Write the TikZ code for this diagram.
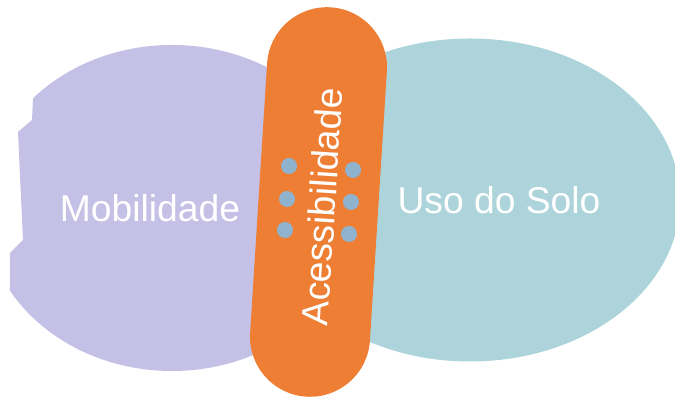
\documentclass[tikz,border=0pt]{standalone}
\usepackage{fontspec}
\setmainfont{Liberation Sans}

\definecolor{lilac}{RGB}{197,193,230}
\definecolor{seablue}{RGB}{172,212,218}
\definecolor{bandorange}{RGB}{237,126,51}
\definecolor{dotblue}{RGB}{143,179,206}

\begin{document}
\begin{tikzpicture}[x=0.025cm, y=0.025cm,
    label/.style={text=white, font=\fontsize{26.5}{30}\selectfont},
    hole/.style={circle, fill=dotblue, inner sep=0pt, minimum size=0.4cm}]
    \useasboundingbox (0,0) rectangle (675,398);
    \clip (0,0) rectangle (675,398);

    % Draw the two areas
    \begin{scope}
        \clip (33,398) -- (33,301) -- (32,278) -- (18,266) -- (23,158) -- (10,145) -- (9,0) -- (400,0) -- (400,398) -- cycle;
        \fill[lilac] (172,190) ellipse [x radius=188, y radius=163];
    \end{scope}
    \fill[seablue] (470,198) ellipse [x radius=210, y radius=161.5];

    % Draw the band
    \node[rectangle, fill=bandorange, minimum width=3cm, minimum height=9.75cm,
        rounded corners=1.5cm, rotate=-3.6] (band) at (318.5,196) {};

    % Draw the holes
    \node[hole] (h1) at (289,232) {};
    \node[hole] (h2) at (287,199) {};
    \node[hole] (h3) at (285,168) {};
    \node[hole] (h4) at (353,228) {};
    \node[hole] (h5) at (351,196) {};
    \node[hole] (h6) at (349,164) {};

    % Draw labels
    \node[label] (mob) at (150,190) {Mobilidade};
    \node[label] (uso) at (499,198) {Uso do Solo};
    \node[label, rotate=86.4] (acc) at (322,191) {Acessibilidade};
\end{tikzpicture}
\end{document}
